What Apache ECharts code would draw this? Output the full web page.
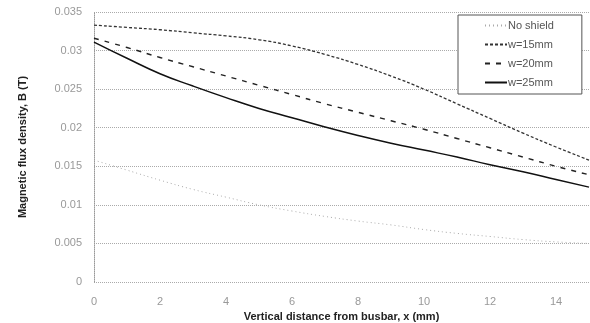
<!DOCTYPE html>
<html>
<head>
<meta charset="utf-8">
<script src="https://cdn.jsdelivr.net/npm/echarts@6/dist/echarts.min.js"></script>
<style>
  html, body { margin: 0; padding: 0; background: #fff; }
  #chart-container { width: 590px; height: 323px; }
</style>
</head>
<body>
<div id="chart-container"></div>
<script>
// distance from busbar, mm
const distances = [0, 1, 2, 3, 4, 5, 6, 7, 8, 9, 10, 11, 12, 13, 14, 15];

// flux density, T
const noShield = [0.0158, 0.0145, 0.0132, 0.0120, 0.0110, 0.0100, 0.0092, 0.0085, 0.0079, 0.0074, 0.0068, 0.0063, 0.0059, 0.0055, 0.0052, 0.0050];
const w15 = [0.0333, 0.0330, 0.0327, 0.0323, 0.0319, 0.0314, 0.0306, 0.0295, 0.0282, 0.0267, 0.0250, 0.0231, 0.0212, 0.0193, 0.0175, 0.0158];
const w20 = [0.0316, 0.0304, 0.0291, 0.0279, 0.0267, 0.0255, 0.0243, 0.0231, 0.0220, 0.0209, 0.0198, 0.0186, 0.0174, 0.0162, 0.0150, 0.0139];
const w25 = [0.0311, 0.0290, 0.0270, 0.0254, 0.0239, 0.0225, 0.0213, 0.0201, 0.0190, 0.0180, 0.0171, 0.0162, 0.0152, 0.0143, 0.0133, 0.0123];

const seriesNames = ['No shield', 'w=15mm', 'w=20mm', 'w=25mm'];

function pairs(values) {
    return distances.map((d, i) => [d, values[i]]);
}

function lineSeries(name, values, color, width, dash) {
    return {
        name: name,
        type: 'line',
        data: pairs(values),
        symbol: 'none',
        smooth: true,
        color: color,
        lineStyle: { color: color, width: width, type: dash }
    };
}

const chart = echarts.init(document.getElementById('chart-container'));

const option = {
    animation: false,
    textStyle: { fontFamily: 'Liberation Sans' },
    grid: { left: 94, right: 1, top: 12, bottom: 41, outerBoundsMode: 'none' },
    legend: {
        orient: 'vertical',
        left: 458,
        top: 15,
        padding: [5, 28, 6, 26],
        itemGap: 8,
        itemWidth: 22,
        itemHeight: 11,
        backgroundColor: '#fff',
        borderColor: '#555',
        borderWidth: 1,
        itemStyle: { opacity: 0 },
        textStyle: { color: '#555', fontSize: 11, padding: [0, 0, 0, -4] },
        data: seriesNames
    },
    xAxis: {
        type: 'value',
        min: 0,
        max: 15,
        interval: 2,
        name: 'Vertical distance from busbar, x (mm)',
        nameLocation: 'middle',
        nameGap: 28,
        nameTextStyle: { color: '#222', fontSize: 11, fontWeight: 'bold' },
        axisLine: { show: false },
        axisTick: { show: false },
        splitLine: { show: false },
        axisLabel: { color: '#999', fontSize: 11, margin: 14, showMaxLabel: false }
    },
    yAxis: {
        type: 'value',
        min: 0,
        max: 0.035,
        interval: 0.005,
        name: 'Magnetic flux density, B (T)',
        nameLocation: 'middle',
        nameGap: 66,
        nameTextStyle: { color: '#222', fontSize: 11, fontWeight: 'bold' },
        axisLine: { show: true, lineStyle: { color: '#999', type: 'dotted', width: 1 } },
        axisTick: { show: false },
        splitLine: { show: true, lineStyle: { color: '#aaa', type: 'dotted', width: 1 } },
        axisLabel: { color: '#999', fontSize: 11, margin: 12 }
    },
    series: [
        lineSeries(seriesNames[0], noShield, '#aaa', 1, [1, 3]),
        lineSeries(seriesNames[1], w15, '#333', 1.3, [3, 2]),
        lineSeries(seriesNames[2], w20, '#222', 1.4, [5, 6]),
        lineSeries(seriesNames[3], w25, '#111', 1.5, 'solid')
    ]
};

chart.setOption(option);
</script>
</body>
</html>
